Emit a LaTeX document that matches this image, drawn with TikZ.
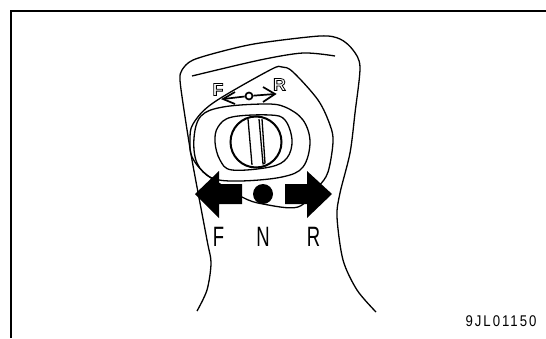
\documentclass[tikz,border=0pt]{standalone}
\usepackage{fontspec}
\setmainfont{Liberation Sans}
\newfontfamily\narrowfont[FakeStretch=0.66]{Liberation Sans}
\newfontfamily\codefont[FakeStretch=0.85,LetterSpace=13]{Liberation Sans}
\newcommand{\hollowtext}[1]{\special{pdf:code 1 Tr 0.8 w}#1\special{pdf:code 0 Tr 0 w}}

\begin{document}
\begin{tikzpicture}[
    x=1pt, y=-1pt,
    frameline/.style={line width=2pt, line cap=butt},
    outline/.style={line width=1.3pt, line join=round},
    knob/.style={line width=2pt},
    bigarrow/.style={fill=black, draw=none},
    smallarrow/.style={line width=1.7pt},
    letter/.style={font=\narrowfont\fontsize{28}{28}\selectfont, inner sep=0pt},
    marking/.style={font=\bfseries\fontsize{17.5}{17.5}\selectfont, inner sep=0pt}
]
\useasboundingbox (0,0) rectangle (546,338);
% frame
\draw[frameline] (11,338) -- (11,11) -- (546,11);
% housing
\draw[outline] plot[smooth, tension=.5] coordinates {(197,311) (207,290) (211,263) (207,240) (192,160) (184,110) (180,80) (182,70) (193,60) (227,50) (260,43) (320,36) (340,39) (353,50) (360,67) (355,113) (350,153) (340,193) (337,217) (343,260) (357,290) (376,312)};
\draw[outline] plot[smooth, tension=.5] coordinates {(192,76) (260,60) (303,53) (335,56)};
% panel and plate
\draw[outline] plot[smooth cycle, tension=.55] coordinates {(190,140) (193,124) (213,103) (270,70) (282,67) (293,72) (318,100) (330,125) (333,142) (328,172) (318,187) (298,207) (263,204) (242,197) (207,175) (192,157)};
\draw[outline] plot[smooth cycle, tension=.6] coordinates {(194,138) (201,116) (223,107) (265,104) (285,107) (303,120) (310,142) (303,167) (282,177) (240,181) (212,178) (197,163)};
\draw[outline] plot[smooth cycle, tension=.6] coordinates {(215,142) (218,127) (232,117) (270,115) (285,120) (292,140) (287,158) (270,167) (232,170) (220,160)};
% selector knob
\node[draw, circle, knob, minimum size=51pt, inner sep=0pt] (dial) at (256,142) {};
\draw[outline] (248,119) -- (252,165);
\draw[outline] (259,119) -- (263,164) -- (265,163) -- (262,119);
% small legend
\node[draw, circle, smallarrow, minimum size=7pt, inner sep=0pt] (hub) at (249,96) {};
\coordinate (ftip) at (223,99);
\coordinate (rtip) at (275,94);
\draw[smallarrow] (hub) -- (ftip);
\draw[smallarrow] (235,92) -- (ftip) -- (235,104);
\draw[smallarrow] (hub) -- (rtip);
\draw[smallarrow] (263,87) -- (rtip) -- (263,102);
\node[marking] (fmark) at (218,89.5) {\hollowtext{F}};
\node[marking] (rmark) at (279.5,84.5) {\hollowtext{R}};
% position arrows
\fill[bigarrow] (195,194) -- (219,171) -- (219,184) -- (242,184) -- (242,204) -- (219,204) -- (219,218) -- cycle;
\fill[bigarrow] (332,194) -- (307,171) -- (307,184) -- (285,184) -- (285,204) -- (307,204) -- (307,218) -- cycle;
\node[circle, fill=black, minimum size=20pt, inner sep=0pt] (neutral) at (263,194) {};
\node[letter] (flabel) at (218.5,237) {F};
\node[letter] (nlabel) at (263,237) {N};
\node[letter] (rlabel) at (313.5,237) {R};
\node[font=\codefont\fontsize{15.5}{15.5}\selectfont, inner sep=0pt] (code) at (501,321) {9JL01150};
\end{tikzpicture}
\end{document}
